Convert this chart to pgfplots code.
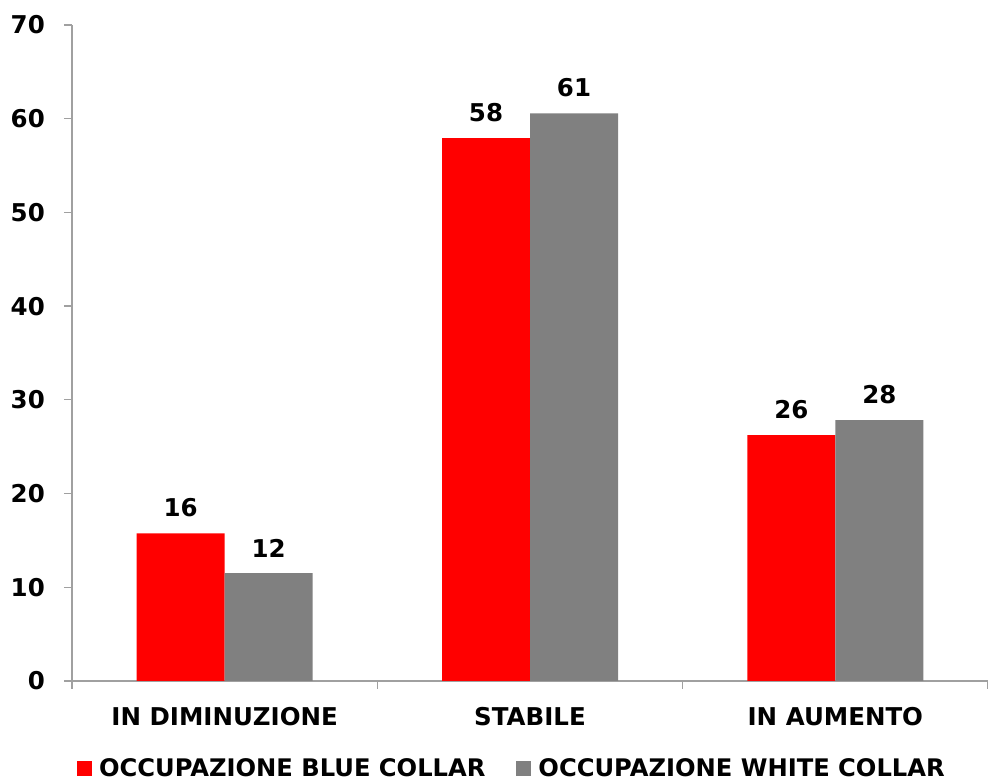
\documentclass[border=0pt]{standalone}
\usepackage{fontspec}
\setmainfont{DejaVu Sans}
\usepackage{pgfplots}
\pgfplotsset{compat=1.18}
\definecolor{barred}{RGB}{255,0,0}
\definecolor{bargray}{RGB}{128,128,128}
\definecolor{axisgray}{RGB}{160,160,160}
\begin{document}
\begin{tikzpicture}
\begin{axis}[
  name=ax,
  scale only axis,
  width=916bp, height=656bp,
  ybar=0pt,
  bar width=88bp,
  xmin=-0.5, xmax=2.5,
  ymin=0, ymax=70,
  axis lines=left,
  axis line style={-, draw=axisgray, line width=1.3bp},
  ytick={0,10,...,70},
  xtick={-0.5,0.5,1.5,2.5},
  xticklabels={},
  extra x ticks={0,1,2},
  extra x tick labels={IN DIMINUZIONE,STABILE,IN AUMENTO},
  extra x tick style={major tick length=0pt},
  tick align=outside,
  major tick length=8bp,
  tick style={draw=axisgray, line width=1.3bp},
  /pgf/number format/assume math mode=true,
  ticklabel style={font=\fontsize{24.5bp}{28bp}\selectfont\bfseries, inner sep=0pt},
  yticklabel style={xshift=-19bp},
  xticklabel style={yshift=-26bp},
  nodes near coords={\pgfmathprintnumber[fixed,precision=0]{\pgfplotspointmeta}},
  nodes near coords style={font=\fontsize{24.5bp}{28bp}\selectfont\bfseries, inner sep=0pt, anchor=south, yshift=16bp, text=black},
  legend style={draw=none, fill=none, inner sep=0pt, outer sep=0pt,
    at={(0.0055,-0.1335)}, anchor=west,
    font=\fontsize{24.2bp}{28bp}\selectfont\bfseries,
    nodes={inner sep=0pt},
    /tikz/every odd column/.append style={column sep=7bp},
    /tikz/every even column/.append style={column sep=31bp}},
  legend columns=2,
  legend image code/.code={\fill[#1] (0bp,-7.5bp) rectangle (15bp,7.5bp);},
  clip=false,
]
\addplot[fill=barred, draw=none] coordinates {(0,15.74) (1,57.94) (2,26.23)};
\addplot[fill=bargray, draw=none] coordinates {(0,11.5) (1,60.57) (2,27.83)};
\legend{OCCUPAZIONE BLUE COLLAR, OCCUPAZIONE WHITE COLLAR}
\end{axis}
\pgfresetboundingbox
\path ([xshift=-72bp,yshift=-103bp]ax.south west) rectangle ([yshift=25bp]ax.north east);
\end{tikzpicture}
\end{document}
